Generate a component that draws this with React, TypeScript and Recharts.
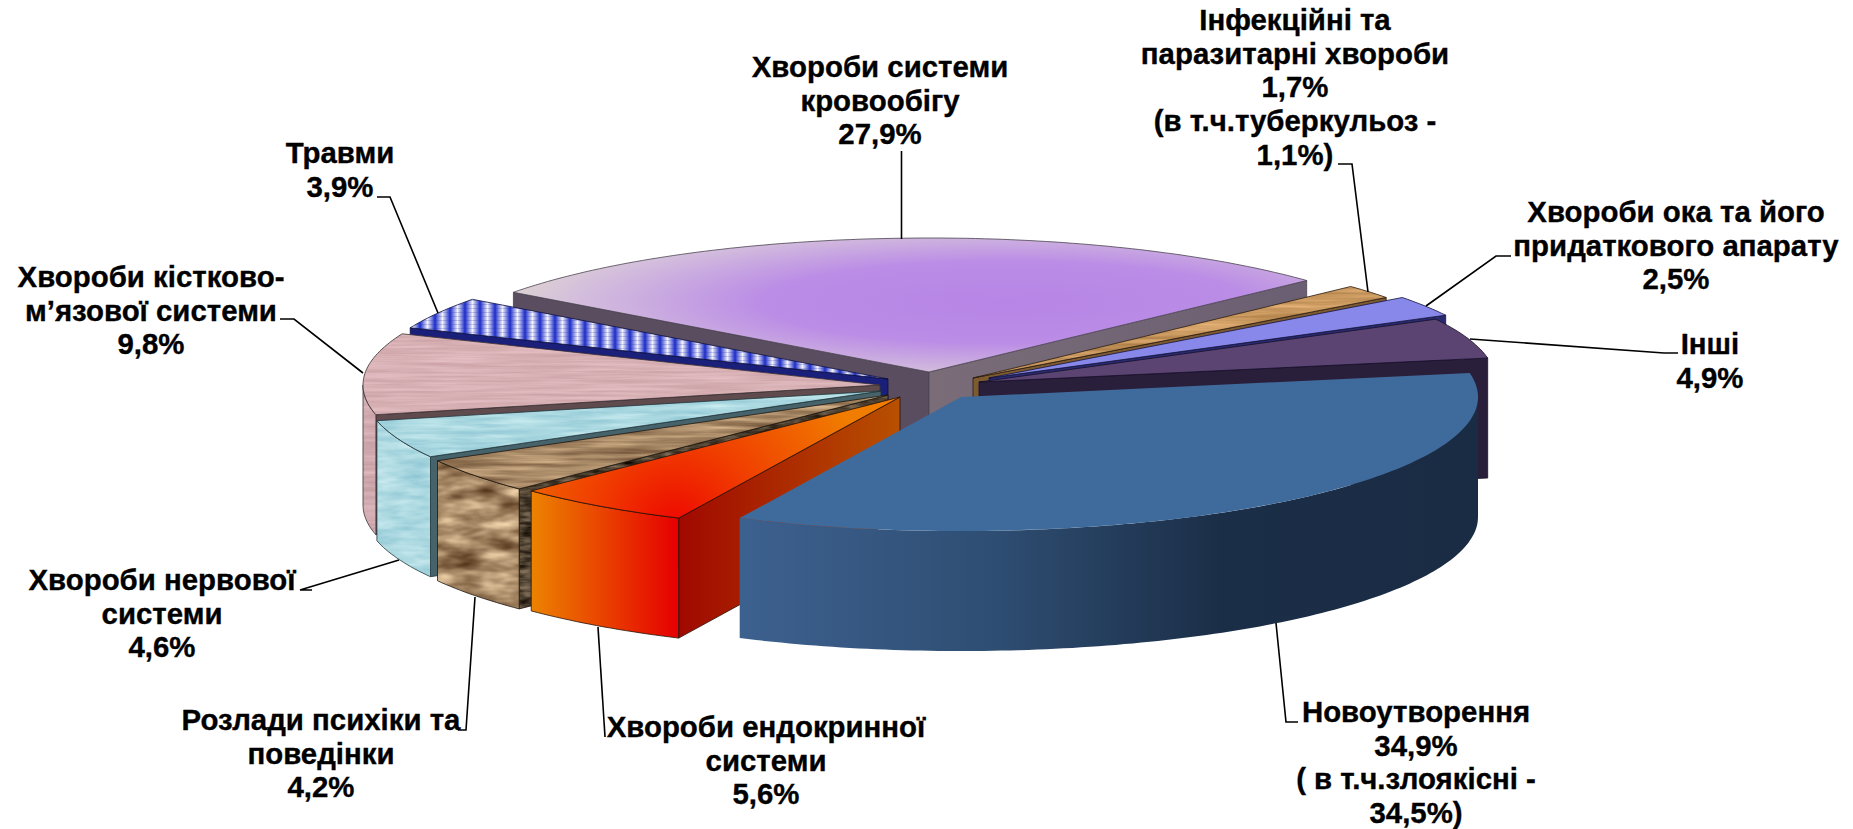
import React from "react";
import { PieChart, Pie } from "recharts";

// ---------- data ----------
const categories = [
  "Хвороби системи кровообігу",
  "Інфекційні та паразитарні хвороби",
  "Хвороби ока та його придаткового апарату",
  "Інші",
  "Новоутворення",
  "Хвороби ендокринної системи",
  "Розлади психіки та поведінки",
  "Хвороби нервової системи",
  "Хвороби кістково-м’язової системи",
  "Травми",
];
const shares = [27.9, 1.7, 2.5, 4.9, 34.9, 5.6, 4.2, 4.6, 9.8, 3.9];
const labelLines = [
  ["Хвороби системи", "кровообігу", "27,9%"],
  ["Інфекційні та", "паразитарні хвороби", "1,7%", "(в т.ч.туберкульоз -", "1,1%)"],
  ["Хвороби ока та його", "придаткового апарату", "2,5%"],
  ["Інші", "4,9%"],
  ["Новоутворення", "34,9%", "( в т.ч.злоякісні -", "34,5%)"],
  ["Хвороби ендокринної", "системи", "5,6%"],
  ["Розлади психіки та", "поведінки", "4,2%"],
  ["Хвороби нервової", "системи", "4,6%"],
  ["Хвороби кістково-", "м’язової системи", "9,8%"],
  ["Травми", "3,9%"],
];

// paint order of the exploded slices: back, left and then front
const backGroup = [0, 1, 2, 3];
const leftGroup = [9, 8, 7, 6, 5];
const frontGroup = [4];

// ---------- layout and style ----------
const W = 1853;
const H = 829;
const CX = 925;
const CY = 385;
const RADIUS = 517;
const TILT = 0.2592;
const DEPTH = 120;
const FIRST_ANGLE = 143.5;
const DEG_PER_PCT = 3.6;

const explode = [
  [4, -13], [48, -7], [64, -7], [54, -3], [36, 12],
  [-25, 12], [-37, 10], [-44, 6], [-45, 0], [-37, -6],
];
const labelPos = [
  [880, 77], [1295, 30], [1676, 222], [1710, 354], [1416, 722],
  [766, 737], [321, 730], [162, 590], [151, 287], [340, 163],
];
const labelStep = 33.7;
const leaders = [
  "901.5,151 901.5,239",
  "1338,164 1352,164 1368,292",
  "1511,256 1496,256 1426,306",
  "1678,353 1664,353 1470,339",
  "1298,722 1286,722 1276,623",
  "605,737 598,627",
  "458,730 466,730 475,597",
  "312,590 300,590 399,560",
  "280,319 294,319 363,373",
  "377,197 390,197 438,313",
];
type Look = {
  top: string; topFilter?: string; arc?: string; arcFilter?: string;
  wall: string; wallFilter?: string; wallLo?: string; line: string;
};
const looks: Look[] = [
  { top: "url(#purpleTop)", wall: "#5a4d60", wallLo: "url(#purpleWall)", line: "#4a4450" },
  { top: "#c8945a", topFilter: "url(#woodLight)", wall: "#7d5a30", line: "#2a1c10" },
  { top: "#8888ea", wall: "#2a2a70", line: "#14143c" },
  { top: "#5b4472", wall: "#2a1f3b", line: "#17102a" },
  { top: "#3f6b9c", arc: "url(#blueSide)", wall: "#2c4b6e", line: "none" },
  { top: "url(#fireTop)", arc: "url(#fireSide)", wall: "url(#fireWall)", line: "#2a1208" },
  { top: "#a78a64", topFilter: "url(#woodTop)", arc: "#a78a64", arcFilter: "url(#woodSide)", wall: "#4a3b2b", wallFilter: "url(#woodDark)", line: "#1e160e" },
  { top: "#a5d7e0", topFilter: "url(#waterTop)", arc: "#a5d7e0", arcFilter: "url(#waterSide)", wall: "#46636b", line: "#22363c" },
  { top: "#d8b0b4", topFilter: "url(#pinkTop)", arc: "#d0a8ac", arcFilter: "url(#pinkSide)", wall: "#5f4a4d", line: "#3a3032" },
  { top: "url(#stripes)", wall: "#1a1f7a", line: "#0e1040" },
];

const rad = (a: number) => (a * Math.PI) / 180;
const fmt = (n: number) => n.toFixed(1);

function texture(id: string, freq: string, c0: string, c1: string, seed: number) {
  const ch = (c: string, i: number) => parseInt(c.slice(1 + i * 2, 3 + i * 2), 16) / 255;
  const row = (i: number) => {
    const k = (ch(c1, i) - ch(c0, i)) / 0.4;
    const o = ch(c0, i) - k * 0.3;
    return `${k.toFixed(3)} 0 0 0 ${o.toFixed(3)}`;
  };
  return (
    <filter id={id} key={id} x="0" y="0" width="1" height="1" colorInterpolationFilters="sRGB">
      <feTurbulence type="fractalNoise" baseFrequency={freq} numOctaves={3} seed={seed} result="n" />
      <feColorMatrix in="n" type="matrix" values={`${row(0)} ${row(1)} ${row(2)} 0 0 0 0 1`} result="c" />
      <feComposite in="c" in2="SourceAlpha" operator="in" />
    </filter>
  );
}

function Face({ d, fill, filter, line }: { d: string; fill: string; filter?: string; line: string }) {
  return (
    <g>
      <path d={d} fill={fill} filter={filter} stroke={filter ? "none" : line} strokeWidth={filter ? 0 : 0.8} />
      {filter ? <path d={d} fill="none" stroke={line} strokeWidth={0.8} /> : null}
    </g>
  );
}

function SliceShape(props: any) {
  const id: number = props.payload?.id ?? props.id;
  const look = looks[id];
  const x0 = props.cx + explode[id][0];
  const y0 = props.cy + explode[id][1];
  const rx = props.outerRadius;
  const ry = rx * TILT;
  const lo = Math.min(props.startAngle, props.endAngle);
  const hi = Math.max(props.startAngle, props.endAngle);
  const pt = (a: number): [number, number] => [x0 + rx * Math.cos(rad(a)), y0 - ry * Math.sin(rad(a))];
  const samples = (a: number, b: number) => {
    const out: [number, number][] = [];
    const n = Math.max(2, Math.ceil((b - a) / 1));
    for (let i = 0; i <= n; i++) out.push(pt(a + ((b - a) * i) / n));
    return out;
  };
  const poly = (p: [number, number][]) => "M" + p.map((q) => `${fmt(q[0])},${fmt(q[1])}`).join("L") + "Z";
  const down = (p: [number, number]): [number, number] => [p[0], p[1] + DEPTH];
  const A: [number, number] = [x0, y0];
  const topArc = samples(lo, hi);
  const top = poly([A, ...topArc]);
  const mid = pt((lo + hi) / 2);
  const wallShown = (P: [number, number]) => {
    const lineY = A[1] + ((P[1] - A[1]) / (P[0] - A[0])) * (mid[0] - A[0]);
    return mid[1] < lineY;
  };
  const walls: React.ReactNode[] = [];
  const Pl = pt(lo);
  const Ph = pt(hi);
  if (wallShown(Ph)) {
    walls.push(<Face key="h" d={poly([A, Ph, down(Ph), down(A)])} fill={look.wall} filter={look.wallFilter} line={look.line} />);
  }
  if (wallShown(Pl)) {
    walls.push(<Face key="l" d={poly([A, Pl, down(Pl), down(A)])} fill={look.wallLo ?? look.wall} filter={look.wallFilter} line={look.line} />);
  }
  const arcs: React.ReactNode[] = [];
  const spans: [number, number][] = [[-180, 0], [180, 360]];
  spans.forEach(([s, e], i) => {
    const a = Math.max(lo, s);
    const b = Math.min(hi, e);
    if (b > a && look.arc) {
      const p = samples(a, b);
      arcs.push(<Face key={i} d={poly([...p, ...p.map(down).reverse()])} fill={look.arc} filter={look.arcFilter} line={look.line} />);
    }
  });
  return (
    <g>
      {walls}
      {arcs}
      <Face d={top} fill={look.top} filter={look.topFilter} line={look.line} />
    </g>
  );
}

function SliceLabel(props: any) {
  const id: number = props.payload?.id ?? props.id;
  const [x, y] = labelPos[id];
  return (
    <g>
      <polyline points={leaders[id]} fill="none" stroke="#000" strokeWidth={1.6} />
      {labelLines[id].map((t, i) => (
        <text
          key={i}
          x={x}
          y={y + i * labelStep}
          textAnchor="middle"
          fontFamily="'Liberation Sans', Arial, sans-serif"
          fontWeight="bold"
          fontSize={29.4}
          fill="#000"
          stroke="#000"
          strokeWidth={0.35}
        >
          {t}
        </text>
      ))}
    </g>
  );
}

const rowsOf = (ids: number[]) => ids.map((id) => ({ id, name: categories[id], value: shares[id] }));
const sumOf = (ids: number[]) => ids.reduce((s, id) => s + shares[id], 0);

export default function App() {
  const backEnd = FIRST_ANGLE - sumOf(backGroup) * DEG_PER_PCT;
  const leftEnd = FIRST_ANGLE + sumOf(leftGroup) * DEG_PER_PCT;
  const frontEnd = backEnd - sumOf(frontGroup) * DEG_PER_PCT;
  const pies: [number[], number, number][] = [
    [backGroup, FIRST_ANGLE, backEnd],
    [leftGroup, FIRST_ANGLE, leftEnd],
    [frontGroup, backEnd, frontEnd],
  ];
  return (
    <div style={{ position: "absolute", left: 0, top: 0, width: W, height: H, background: "#fff" }}>
      <PieChart width={W} height={H} margin={{ top: 0, right: 0, bottom: 0, left: 0 }}>
        <defs>
          <radialGradient id="purpleTop" cx="0.62" cy="0.48" r="0.68">
            <stop offset="0" stopColor="#b785e6" />
            <stop offset="0.45" stopColor="#bb8de6" />
            <stop offset="0.8" stopColor="#d4bfdc" />
            <stop offset="1" stopColor="#e4dfcc" />
          </radialGradient>
          <linearGradient id="purpleWall" x1="0" x2="1" y1="0" y2="0">
            <stop offset="0" stopColor="#7a6d78" />
            <stop offset="1" stopColor="#6a5e72" />
          </linearGradient>
          <linearGradient id="blueSide" gradientUnits="userSpaceOnUse" x1="739" x2="1480" y1="0" y2="0">
            <stop offset="0" stopColor="#3d618f" />
            <stop offset="0.35" stopColor="#2e4d72" />
            <stop offset="0.65" stopColor="#1b2e47" />
            <stop offset="1" stopColor="#1a2c44" />
          </linearGradient>
          <radialGradient id="fireTop" gradientUnits="userSpaceOnUse" cx="675" cy="525" r="200">
            <stop offset="0" stopColor="#ee0800" />
            <stop offset="0.4" stopColor="#f03c00" />
            <stop offset="1" stopColor="#f07c00" />
          </radialGradient>
          <linearGradient id="fireSide" gradientUnits="userSpaceOnUse" x1="530" x2="677" y1="0" y2="0">
            <stop offset="0" stopColor="#ec8400" />
            <stop offset="1" stopColor="#e60000" />
          </linearGradient>
          <linearGradient id="fireWall" gradientUnits="userSpaceOnUse" x1="677" x2="900" y1="0" y2="0">
            <stop offset="0" stopColor="#a00800" />
            <stop offset="1" stopColor="#b85000" />
          </linearGradient>
          <linearGradient id="stripeCell" x1="0" x2="1" y1="0" y2="0">
            <stop offset="0" stopColor="#1c2cc8" />
            <stop offset="0.5" stopColor="#f4f4fb" />
            <stop offset="1" stopColor="#1c2cc8" />
          </linearGradient>
          <pattern id="stripes" patternUnits="userSpaceOnUse" width="15" height="4">
            <rect width="15" height="4" fill="url(#stripeCell)" />
            <rect width="15" height="1" fill="#2030b0" opacity="0.22" />
          </pattern>
          {texture("woodLight", "0.012 0.25", "#b98a52", "#d8a66c", 4)}
          {texture("woodTop", "0.012 0.18", "#86684a", "#c2a27c", 7)}
          {texture("woodSide", "0.025 0.07", "#77583a", "#d2b48e", 11)}
          {texture("woodDark", "0.05 0.2", "#2e2418", "#6e5e4a", 3)}
          {texture("waterTop", "0.02 0.2", "#9ccfda", "#bae2e8", 5)}
          {texture("waterSide", "0.03 0.12", "#9ccfda", "#bee3e9", 9)}
          {texture("pinkTop", "0.012 0.35", "#d0a8ac", "#dfb9bd", 2)}
          {texture("pinkSide", "0.02 0.25", "#c9a2a7", "#d9b3b7", 6)}
        </defs>
        {pies.map(([ids, a, b], i) => (
          <Pie
            key={i}
            data={rowsOf(ids)}
            dataKey="value"
            nameKey="name"
            cx={CX}
            cy={CY}
            innerRadius={0}
            outerRadius={RADIUS}
            startAngle={a}
            endAngle={b}
            stroke="none"
            isAnimationActive={false}
            shape={SliceShape}
            activeShape={SliceShape}
            inactiveShape={SliceShape}
            label={SliceLabel}
            labelLine={false}
          />
        ))}
      </PieChart>
    </div>
  );
}
